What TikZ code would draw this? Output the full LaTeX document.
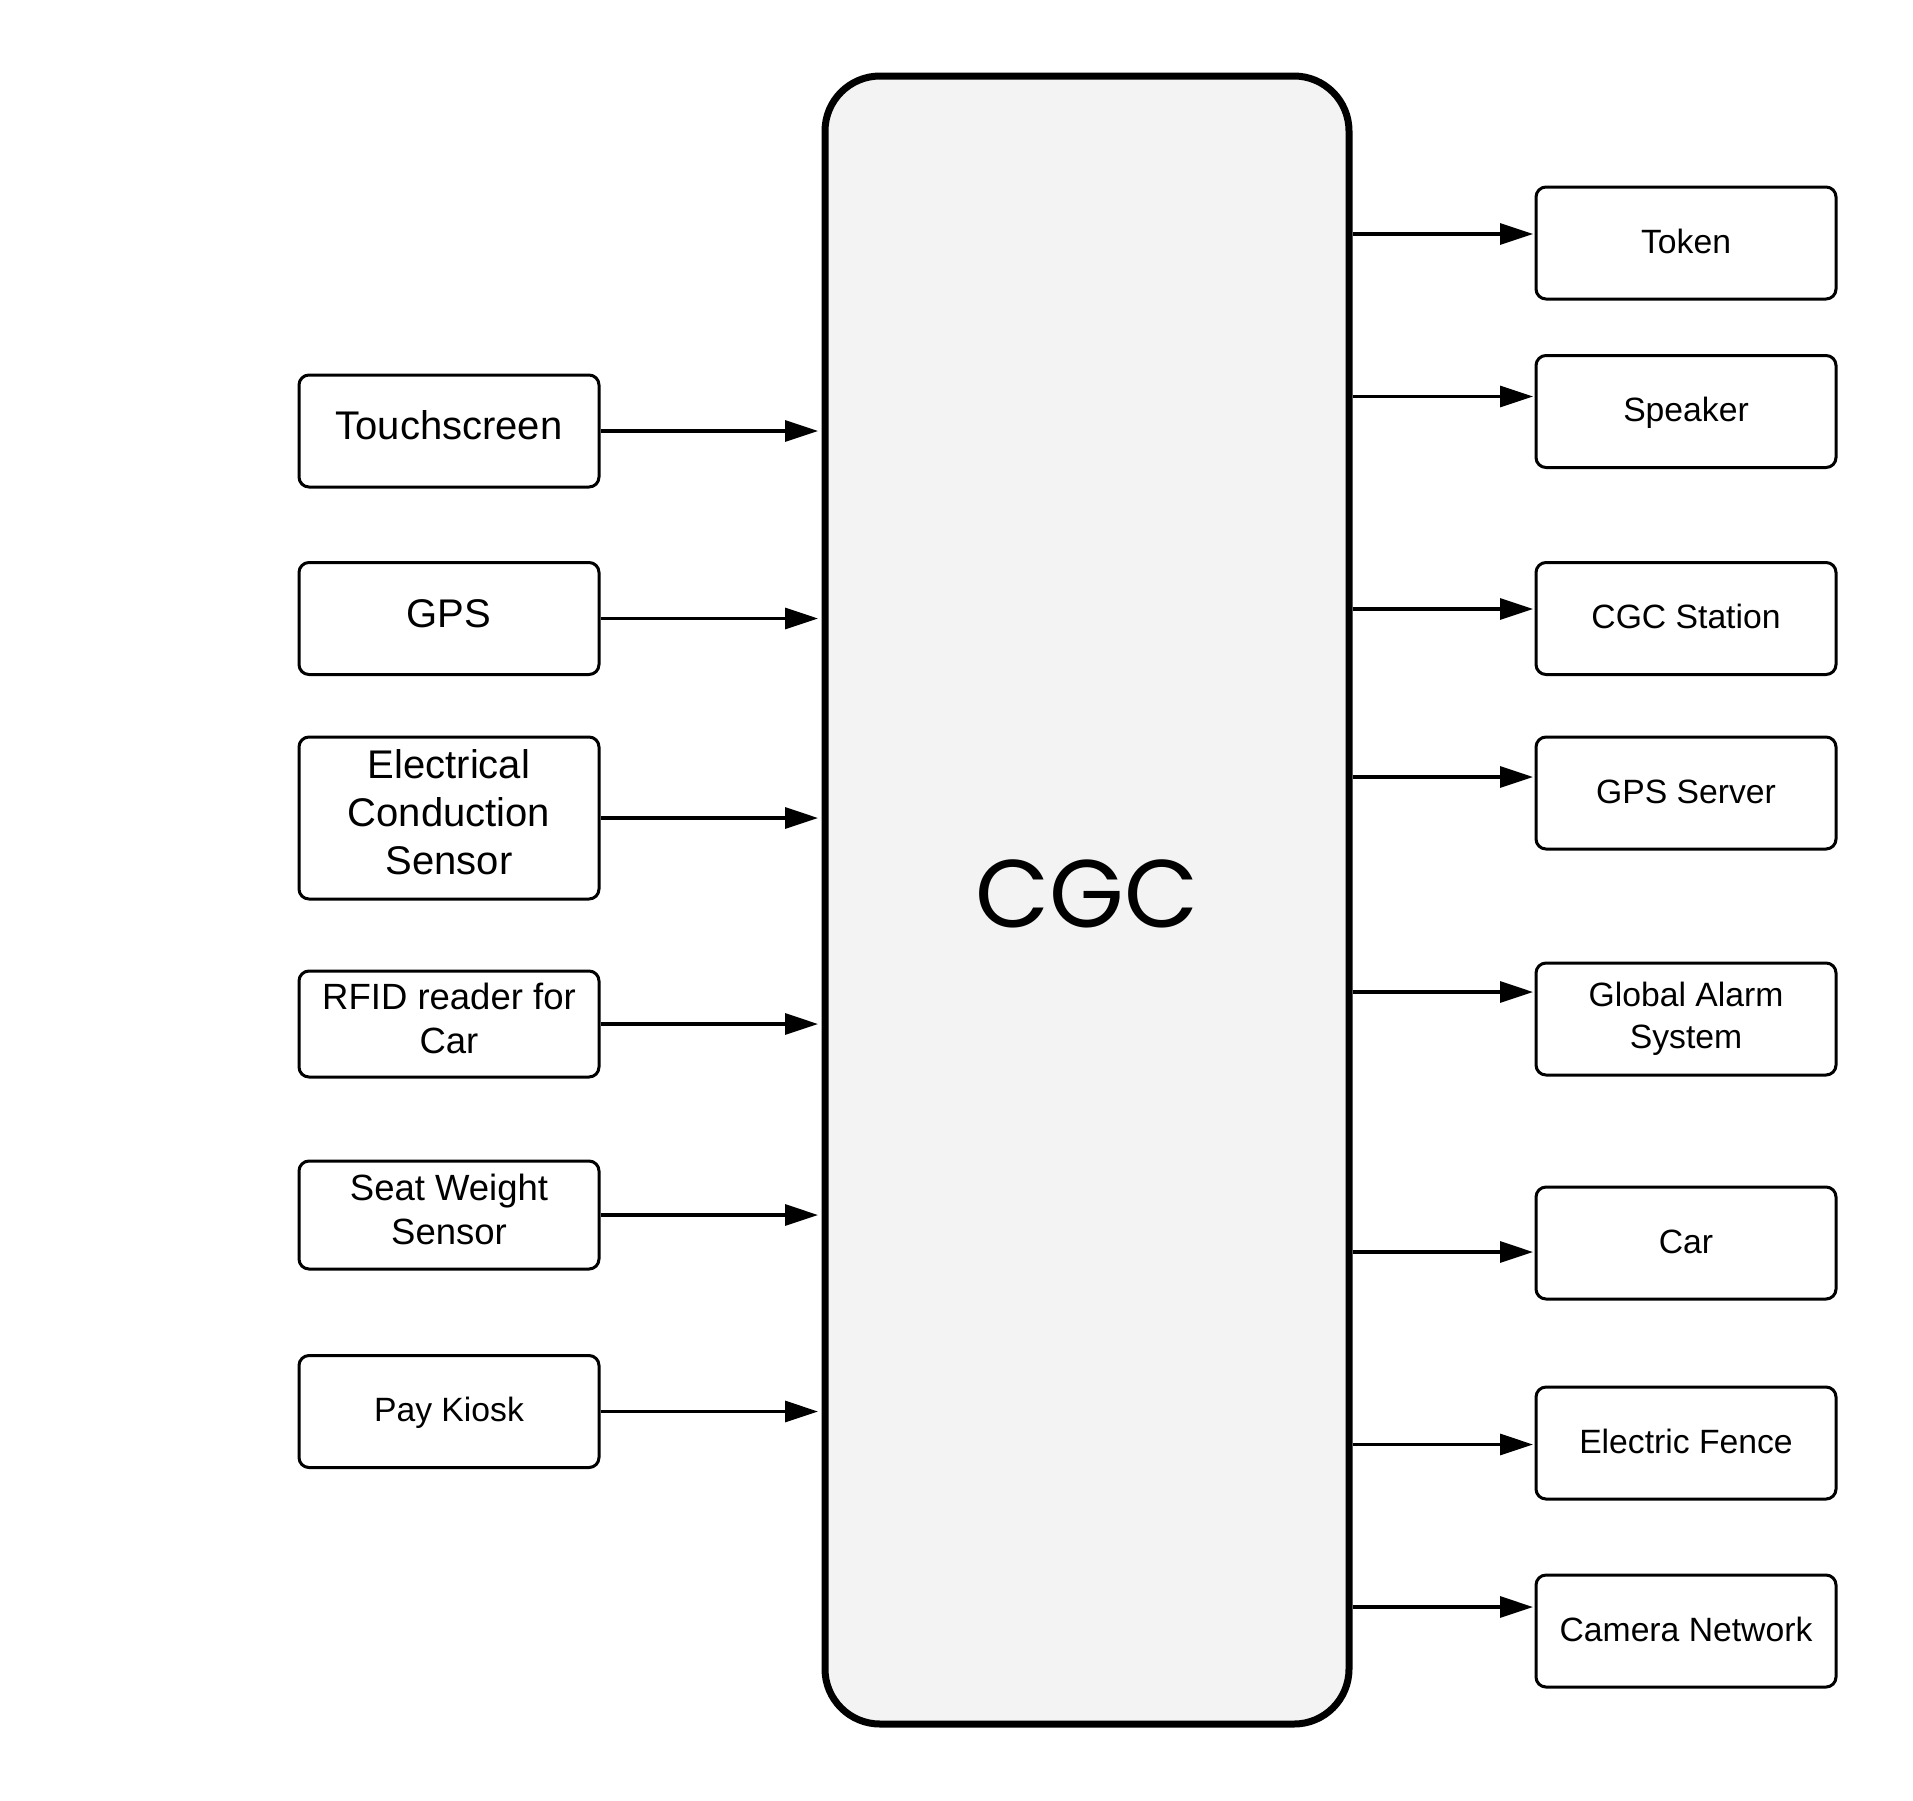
\documentclass[tikz,border=0pt]{standalone}
\usepackage{fontspec}
\setmainfont{Liberation Sans}
\newfontfamily\cgcfont{Poppins}
\usepackage{tikz}
\usetikzlibrary{arrows.meta, positioning, calc}
\definecolor{cgcgray}{RGB}{243, 243, 243}

\begin{document}
\begin{tikzpicture}[x=1pt, y=-1pt,
	unit/.style={draw, line width=3pt, rounded corners=10pt, minimum width=300pt,
		minimum height=112pt, align=center, inner sep=0pt},
	bigtext/.style={font=\fontsize{40}{48}\selectfont,
		execute at begin node={\rule{0pt}{30pt}}, execute at end node={\rule[-12.4pt]{0pt}{12.4pt}}},
	midtext/.style={font=\fontsize{36.5}{43.5}\selectfont,
		execute at begin node={\rule{0pt}{28pt}}, execute at end node={\rule[-11.9pt]{0pt}{11.9pt}}},
	smalltext/.style={font=\fontsize{33.7}{41.5}\selectfont,
		execute at begin node={\rule{0pt}{27.5pt}}, execute at end node={\rule[-7.4pt]{0pt}{7.4pt}}},
	link/.style={line width=3.2pt, -{Triangle[length=33pt, width=21pt]}}
]
	\useasboundingbox (0,0) rectangle (1913,1800);
	% central controller
	\node[draw, line width=7pt, fill=cgcgray, rounded corners=55pt, minimum width=524pt,
		minimum height=1648pt, font=\cgcfont\fontsize{96}{110}\selectfont] (cgc) at (1087,900)
		{CGC\rule[-12pt]{0pt}{12pt}};
	% inputs
	\node[unit, bigtext] (touch) at (449,431) {Touchscreen};
	\node[unit, bigtext] (gps) at (449,618.5) {GPS};
	\node[unit, bigtext, minimum height=162pt] (ecs) at (449,818) {Electrical\\Conduction\\Sensor};
	\node[unit, midtext, minimum height=106pt] (rfid) at (449,1024) {RFID reader for\\Car};
	\node[unit, midtext, minimum height=108pt] (seat) at (449,1215) {Seat Weight\\Sensor};
	\node[unit, smalltext] (kiosk) at (449,1411.5) {Pay Kiosk};
	% outputs
	\node[unit, smalltext] (token) at (1686,243) {Token};
	\node[unit, smalltext] (speaker) at (1686,411.5) {Speaker};
	\node[unit, smalltext] (station) at (1686,618.5) {CGC Station};
	\node[unit, smalltext] (gpsserver) at (1686,793) {GPS Server};
	\node[unit, smalltext] (alarm) at (1686,1019) {Global Alarm\\System};
	\node[unit, smalltext] (car) at (1686,1243) {Car};
	\node[unit, smalltext] (fence) at (1686,1443) {Electric Fence};
	\node[unit, smalltext] (camera) at (1686,1631) {Camera Network};
	% input arrows
	\draw[link, shorten >=3.5pt] (touch.east) -- (touch.east -| cgc.west);
	\draw[link, shorten >=3.5pt] (gps.east) -- (gps.east -| cgc.west);
	\draw[link, shorten >=3.5pt] (ecs.east) -- (ecs.east -| cgc.west);
	\draw[link, shorten >=3.5pt] (rfid.east) -- (rfid.east -| cgc.west);
	\draw[link, shorten >=3.5pt] (seat.east) -- (seat.east -| cgc.west);
	\draw[link, shorten >=3.5pt] (kiosk.east) -- (kiosk.east -| cgc.west);
	% output arrows
	\draw[link, shorten >=1.5pt] (cgc.east |- 0,234) -- (token.west |- 0,234);
	\draw[link, shorten >=1.5pt] (cgc.east |- 0,396.5) -- (speaker.west |- 0,396.5);
	\draw[link, shorten >=1.5pt] (cgc.east |- 0,609) -- (station.west |- 0,609);
	\draw[link, shorten >=1.5pt] (cgc.east |- 0,777) -- (gpsserver.west |- 0,777);
	\draw[link, shorten >=1.5pt] (cgc.east |- 0,992) -- (alarm.west |- 0,992);
	\draw[link, shorten >=1.5pt] (cgc.east |- 0,1252) -- (car.west |- 0,1252);
	\draw[link, shorten >=1.5pt] (cgc.east |- 0,1444.5) -- (fence.west |- 0,1444.5);
	\draw[link, shorten >=1.5pt] (cgc.east |- 0,1607) -- (camera.west |- 0,1607);
\end{tikzpicture}
\end{document}
